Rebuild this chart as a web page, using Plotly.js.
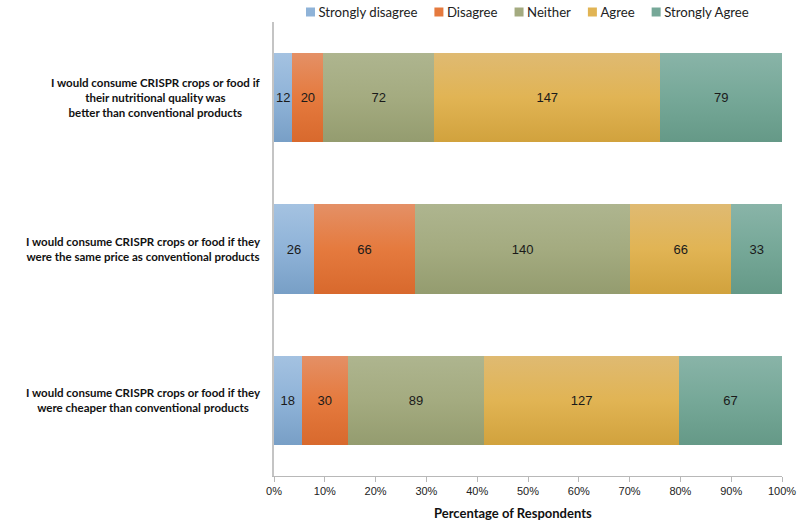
<!DOCTYPE html>
<html>
<head>
<meta charset="utf-8">
<script src="https://cdn.plot.ly/plotly-3.0.1.min.js"></script>
<style>html,body{margin:0;padding:0;background:#fff;}#chart{width:800px;height:526px;}</style>
</head>
<body>
<div id="chart"></div>
<script>
const categories = [
  "I would consume CRISPR crops or food if<br>their nutritional quality was<br>better than conventional products",
  "I would consume CRISPR crops or food if they<br>were the same price as conventional products",
  "I would consume CRISPR crops or food if they<br>were cheaper than conventional products"
];
const seriesNames = ["Strongly disagree", "Disagree", "Neither", "Agree", "Strongly Agree"];
const stronglyDisagree = [12, 26, 18];
const disagree = [20, 66, 30];
const neither = [72, 140, 89];
const agree = [147, 66, 127];
const stronglyAgree = [79, 33, 67];
const tickVals = [0, 10, 20, 30, 40, 50, 60, 70, 80, 90, 100];
const tickLabels = ["0%", "10%", "20%", "30%", "40%", "50%", "60%", "70%", "80%", "90%", "100%"];
const colors = ["#8fb3d8", "#e57a3e", "#a4ab80", "#e1b454", "#76a898"];
const gradTop = ["#a4c2e1", "#e49066", "#aeb58f", "#dfba72", "#89b4a8"];
const gradBottom = ["#789fc6", "#d8692d", "#949c6f", "#d1a23d", "#659987"];

const seriesValues = [stronglyDisagree, disagree, neither, agree, stronglyAgree];
const traces = seriesNames.map((name, i) => ({
  type: "bar",
  orientation: "h",
  name: name,
  y: categories,
  x: seriesValues[i],
  text: seriesValues[i].map(String),
  textposition: "inside",
  insidetextanchor: "middle",
  constraintext: "none",
  textfont: {family: "Liberation Sans, Arial, sans-serif", size: 13, color: "#1a1a1a"},
  marker: {color: colors[i], line: {width: 0}},
  width: 0.59,
  hoverinfo: "x+name"
}));

const labelFont = "Lato, 'Open Sans', sans-serif";
const annotations = categories.map(c => ({
  xref: "paper", yref: "y", x: -0.022, y: c,
  xanchor: "right", yanchor: "middle", align: "center",
  text: "<b>" + c + "</b>", showarrow: false,
  font: {family: labelFont, size: 11.5, color: "#111"}
}));
annotations.push({
  xref: "paper", yref: "paper", x: 0.47, y: -0.081, xanchor: "center", yanchor: "middle",
  text: "<b>Percentage of Respondents</b>", showarrow: false,
  font: {family: labelFont, size: 13, color: "#111"}
});

const layout = {
  width: 800, height: 526,
  margin: {l: 274, r: 18, t: 22, b: 50, autoexpand: false},
  barmode: "stack",
  barnorm: "percent",
  bargap: 0.41,
  paper_bgcolor: "#fff", plot_bgcolor: "#fff",
  showlegend: true,
  legend: {
    orientation: "h", xref: "paper", yref: "paper", x: -0.5, xanchor: "left", y: 1.026, yanchor: "middle",
    bgcolor: "rgba(0,0,0,0)",
    font: {family: labelFont, size: 13.2, color: "#222"},
    traceorder: "normal", itemclick: false
  },
  xaxis: {
    range: [0, 100], tickvals: tickVals, ticktext: tickLabels,
    showgrid: false, zeroline: false, showline: true, linecolor: "#b8b8b8", linewidth: 1,
    ticks: "outside", ticklen: 5, tickcolor: "#b8b8b8",
    tickfont: {family: "Liberation Sans, Arial, sans-serif", size: 11, color: "#222"},
    fixedrange: true
  },
  yaxis: {
    autorange: "reversed", showticklabels: false, showgrid: false, zeroline: false,
    showline: true, linecolor: "#c4c4c4", linewidth: 2, ticks: "", fixedrange: true
  },
  annotations: annotations
};

function parseT(el) {
  const m = /translate\(\s*([-\d.e]+)[ ,]*([-\d.e]+)?\s*\)/.exec(el.getAttribute("transform") || "");
  return m ? [parseFloat(m[1]), parseFloat(m[2] || 0)] : [0, 0];
}

Plotly.newPlot("chart", traces, layout, {displayModeBar: false, staticPlot: true}).then(gd => {
  const NS = "http://www.w3.org/2000/svg";
  try {
    // vertical gradients on the bars
    const svg = gd.querySelector(".main-svg");
    let defs = svg.querySelector("defs");
    if (!defs) { defs = document.createElementNS(NS, "defs"); svg.insertBefore(defs, svg.firstChild); }
    colors.forEach((c, i) => {
      const lg = document.createElementNS(NS, "linearGradient");
      lg.setAttribute("id", "barGrad" + i);
      lg.setAttribute("x1", "0"); lg.setAttribute("y1", "0");
      lg.setAttribute("x2", "0"); lg.setAttribute("y2", "1");
      [[0, gradTop[i]], [0.5, c], [1, gradBottom[i]]].forEach(([o, col]) => {
        const s = document.createElementNS(NS, "stop");
        s.setAttribute("offset", o); s.setAttribute("stop-color", col);
        lg.appendChild(s);
      });
      defs.appendChild(lg);
    });
    gd.querySelectorAll(".barlayer .trace").forEach((tr, i) => {
      tr.querySelectorAll("path").forEach(p => { p.style.fill = "url(#barGrad" + i + ")"; });
    });
  } catch (e) { console.log(e); }
  try {
    // compact single-row legend with small square keys
    gd.querySelectorAll(".legend [clip-path]").forEach(el => el.removeAttribute("clip-path"));
    const items = Array.from(gd.querySelectorAll(".legend .traces"));
    const y0 = parseT(items[0])[1];
    let pos = 0;
    items.forEach(it => {
      const sym = it.querySelector(".legendpoints path");
      if (sym) sym.setAttribute("d", "M4.5,4.5H-4.5V-4.5H4.5Z");
      const t = it.querySelector("text.legendtext");
      t.setAttribute("x", 28);
      it.setAttribute("transform", "translate(" + pos + "," + y0 + ")");
      pos += t.getComputedTextLength() + 29.5;
    });
    const first = items[0].querySelector(".legendpoints path");
    const r = first.getBoundingClientRect();
    const dx = 306 - r.left;
    const dy = 12 - (r.top + r.height / 2);
    items.forEach(it => {
      const p = parseT(it);
      it.setAttribute("transform", "translate(" + (p[0] + dx) + "," + (p[1] + dy) + ")");
    });
    const bg = gd.querySelector(".legend rect.bg");
    if (bg) bg.setAttribute("width", 0);
  } catch (e) { console.log(e); }
});
</script>
</body>
</html>
